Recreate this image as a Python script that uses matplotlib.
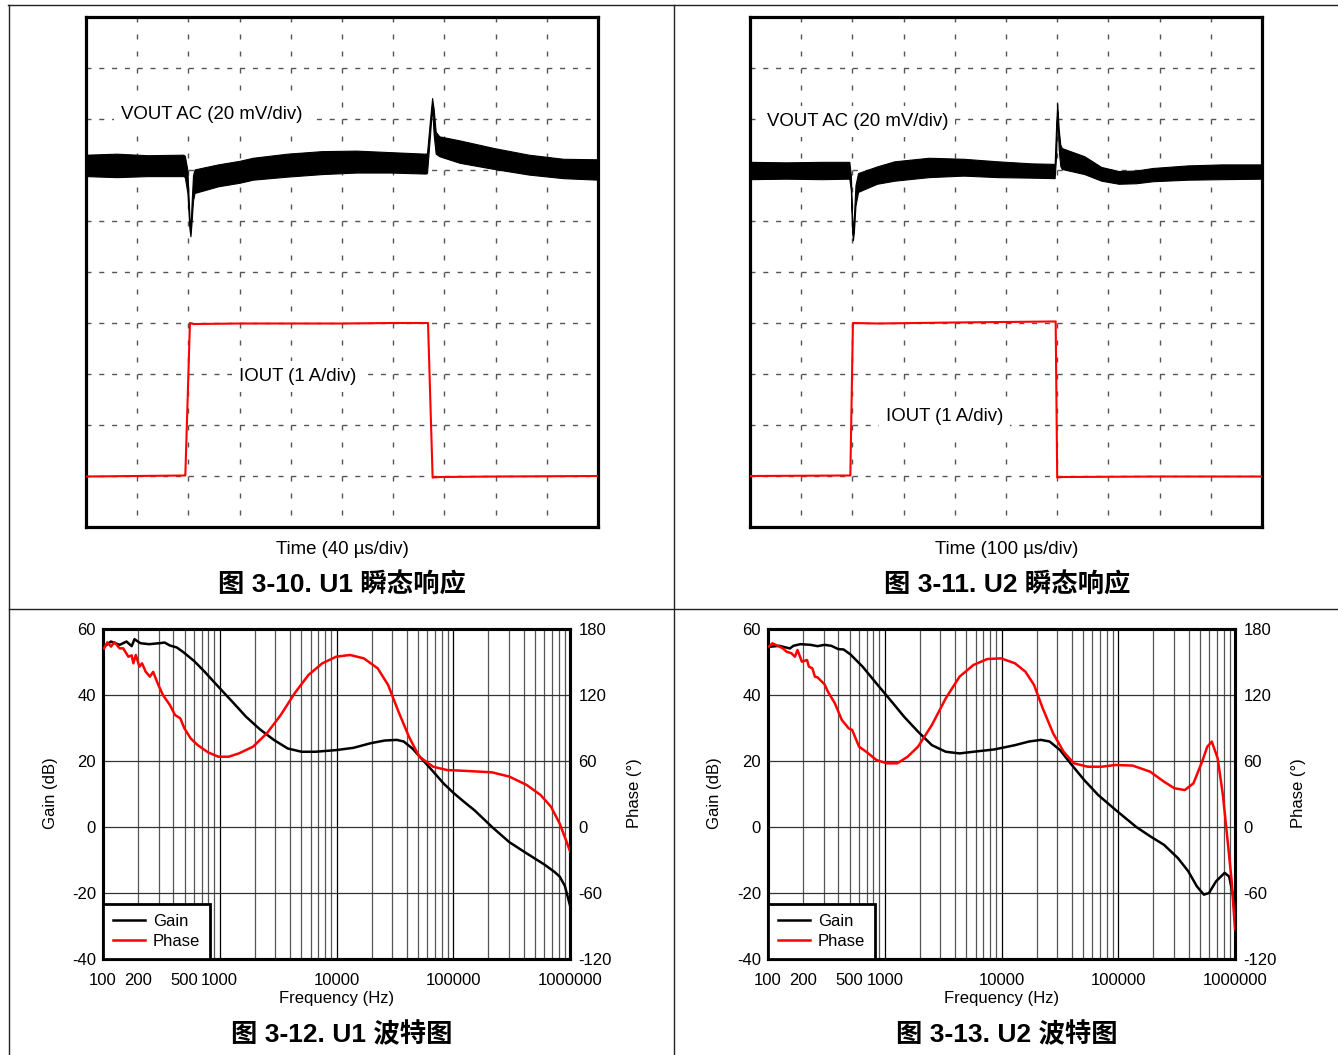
import matplotlib.pyplot as plt
from matplotlib.lines import Line2D
from matplotlib.ticker import NullLocator

plt.rcParams['font.family'] = ['Liberation Sans', 'Noto Sans CJK SC']
plt.rcParams['axes.unicode_minus'] = False

# ---- transient data (scope divisions, 10 x 10 grid) ----
u1_t = [0.00, 0.60, 1.20, 1.90, 1.93, 1.98, 2.02, 2.04, 2.06, 2.09, 2.12, 2.30, 2.58, 3.00, 3.26,
        3.93, 4.61, 5.28, 5.95, 6.63, 6.66, 6.72, 6.76, 6.79, 6.83, 6.90, 7.30, 7.97, 8.65, 9.32, 10.00]
u1_vout_hi = [7.30, 7.32, 7.29, 7.30, 7.28, 7.00, 6.10, 5.80, 6.30, 6.90, 7.01, 7.05, 7.11, 7.18, 7.24,
              7.32, 7.37, 7.38, 7.35, 7.32, 7.33, 8.00, 8.41, 8.20, 7.75, 7.66, 7.58, 7.43, 7.30, 7.22, 7.21]
u1_vout_lo = [6.88, 6.86, 6.88, 6.88, 6.86, 6.55, 5.85, 5.70, 5.95, 6.40, 6.55, 6.60, 6.68, 6.75, 6.81,
              6.87, 6.92, 6.95, 6.95, 6.93, 6.94, 7.70, 8.25, 7.70, 7.32, 7.27, 7.14, 7.02, 6.91, 6.84, 6.81]
u1_it = [0.00, 1.94, 2.03, 2.10, 3.00, 4.00, 5.00, 6.00, 6.68, 6.77, 6.90, 8.00, 10.00]
u1_iout = [0.99, 1.01, 4.00, 3.98, 3.99, 3.99, 3.99, 4.00, 4.00, 0.97, 0.98, 0.99, 1.00]

u2_t = [0.00, 0.70, 1.40, 1.94, 1.97, 1.99, 2.01, 2.03, 2.06, 2.11, 2.48, 2.82, 3.49, 4.17, 4.84,
        5.50, 5.95, 5.98, 6.00, 6.03, 6.06, 6.09, 6.53, 6.86, 7.20, 7.54, 7.87, 8.55, 9.22, 10.00]
u2_vout_hi = [7.16, 7.15, 7.16, 7.16, 6.90, 6.20, 5.72, 6.10, 6.70, 6.94, 7.07, 7.17, 7.24, 7.22, 7.17,
              7.13, 7.12, 7.90, 8.31, 7.80, 7.50, 7.43, 7.27, 7.06, 6.98, 6.99, 7.04, 7.09, 7.11, 7.11]
u2_vout_lo = [6.82, 6.83, 6.82, 6.83, 6.60, 5.90, 5.62, 5.80, 6.30, 6.57, 6.73, 6.79, 6.86, 6.89, 6.86,
              6.85, 6.84, 7.30, 8.15, 7.40, 7.08, 7.02, 6.92, 6.79, 6.73, 6.74, 6.78, 6.81, 6.82, 6.83]
u2_it = [0.00, 1.96, 2.01, 2.50, 4.00, 5.00, 5.97, 6.00, 6.10, 8.00, 10.00]
u2_iout = [1.00, 1.01, 4.00, 3.99, 4.01, 4.02, 4.03, 0.97, 0.98, 0.99, 0.99]

# ---- Bode data ----
u1_gain_f = [102, 117, 139, 159, 176, 186, 209, 248, 305, 337, 374, 429, 491, 603, 740, 973, 1279,
             1681, 2209, 2904, 3817, 5017, 6592, 9931, 14000, 19668, 25850, 32840, 37650, 44660,
             54830, 67300, 82600, 101400, 125000, 152800, 214900, 302500, 425700, 599000, 736000,
             814800, 902700, 1e6]
u1_gain = [54.6, 56.2, 55.2, 56.2, 54.8, 56.9, 55.7, 55.4, 55.7, 55.9, 55.0, 54.4, 52.9, 50.3, 47.1,
           42.5, 38.0, 33.4, 29.6, 26.4, 23.8, 22.8, 22.8, 23.3, 24.0, 25.4, 26.2, 26.4, 25.9, 23.8,
           20.3, 16.8, 13.2, 10.2, 7.5, 5.0, 0.0, -4.6, -8.0, -11.3, -13.6, -15.0, -17.8, -23.8]
u1_phase_f = [102, 109, 117, 125, 139, 149, 165, 176, 182, 191, 205, 216, 232, 252, 269, 294, 326,
              374, 414, 459, 498, 563, 646, 793, 973, 1195, 1466, 1927, 2533, 3330, 4375, 5750,
              7557, 9931, 13051, 17162, 22550, 27677, 33980, 41710, 51200, 67300, 88450, 133200,
              214900, 302500, 425700, 559600, 686800, 814800, 934000, 1e6]
u1_phase = [162.4, 167.9, 164.0, 168.0, 162.4, 162.4, 154.8, 156.0, 148.8, 156.4, 145.8, 148.8, 141.2,
            136.7, 141.0, 130.6, 120.0, 110.9, 101.8, 98.8, 89.7, 80.6, 74.5, 67.9, 63.9, 63.9, 67.0,
            73.0, 85.2, 101.8, 121.5, 138.2, 148.8, 154.8, 156.4, 153.3, 144.2, 129.1, 104.8, 82.1,
            63.9, 54.8, 51.8, 50.9, 49.7, 45.8, 38.2, 29.1, 18.5, 3.3, -13.3, -22.1]

u2_gain_f = [102, 125, 154, 165, 189, 232, 266, 305, 349, 400, 444, 508, 646, 849, 1115, 1466, 1927,
             2533, 3330, 4375, 5750, 8663, 13051, 17162, 21792, 25850, 31730, 38960, 51200, 67300,
             94700, 142700, 187500, 246500, 323900, 397600, 471700, 540800, 599000, 686800, 814800,
             890400, 966500, 1e6]
u2_gain = [54.6, 54.9, 54.1, 54.9, 55.4, 55.2, 54.8, 55.2, 54.9, 53.9, 53.8, 52.3, 48.6, 43.5, 38.5,
           33.4, 28.9, 24.8, 22.8, 22.3, 22.8, 23.5, 24.8, 25.9, 26.4, 25.9, 23.3, 19.3, 14.2, 9.7,
           5.2, 0.0, -2.8, -5.4, -9.4, -13.4, -18.0, -20.5, -20.0, -16.5, -13.9, -15.0, -21.0, -28.0]
u2_phase_f = [102, 109, 125, 134, 144, 159, 170, 179, 195, 216, 224, 240, 252, 266, 305, 326, 374,
              429, 491, 526, 603, 692, 849, 1042, 1279, 1570, 1927, 2533, 3330, 4375, 5750, 7557,
              9931, 13051, 16025, 19005, 22550, 27677, 33980, 41710, 54830, 72060, 94700, 133200,
              187500, 246500, 302500, 371300, 440500, 522600, 578900, 632800, 710600, 787400,
              854700, 934000, 1e6]
u2_phase = [164.0, 167.0, 164.0, 162.4, 159.4, 157.9, 154.8, 160.9, 150.3, 151.8, 145.8, 144.2, 136.7,
            136.0, 129.7, 123.0, 112.4, 97.3, 89.7, 88.2, 73.0, 68.5, 60.9, 57.9, 57.9, 63.9, 73.0,
            92.7, 117.0, 136.7, 147.3, 152.7, 153.3, 148.8, 141.2, 129.1, 107.9, 85.2, 68.5, 57.9,
            54.8, 54.8, 56.4, 55.8, 50.3, 41.2, 35.2, 33.6, 39.7, 59.4, 73.0, 77.6, 62.4, 29.1,
            -7.3, -47.9, -92.7]

freq_ticks = [100, 200, 500, 1000, 10000, 100000, 1000000]
freq_labels = ['100', '200', '500', '1000', '10000', '100000', '1000000']
gain_ticks = [-40, -20, 0, 20, 40, 60]
phase_ticks = [-120, -60, 0, 60, 120, 180]

W, H = 1338, 1055
fig = plt.figure(figsize=(W / 100, H / 100), dpi=100)
PT = 0.72  # points per pixel


def add_ax(l, t, r, b):
    return fig.add_axes([l / W, 1 - b / H, (r - l) / W, (b - t) / H])


def ftext(x, y, s, **kw):
    fig.text(x / W, 1 - y / H, s, ha='center', va='center', **kw)


# table lines
for xs, ys in [([8, W], [5, 5]), ([9, 9], [5, H]), ([674, 674], [5, H]), ([9, W], [609, 609])]:
    fig.add_artist(Line2D([x / W for x in xs], [1 - y / H for y in ys], color='#222', lw=1.0))


def scope(l, r, t, vhi, vlo, it, iout, vpos, ipos, time_label, caption, cx):
    ax = add_ax(l, 17, r, 527)
    ax.set_xlim(0, 10)
    ax.set_ylim(0, 10)
    ax.set_xticks([])
    ax.set_yticks([])
    for s in ax.spines.values():
        s.set_linewidth(2.3)
    dw, dh = 51.2 * PT, 51.0 * PT
    for k in range(1, 10):
        ax.plot([k, k], [10, 0], color='#555', lw=1.0, dashes=(5 * PT, dh / 3 - 5 * PT), zorder=1)
        ax.plot([0, 10], [k, k], color='#555', lw=1.0, dashes=(5 * PT, dw / 4 - 5 * PT), zorder=1)
    ax.fill_between(t, vlo, vhi, color='k', lw=0.8, zorder=3)
    ax.plot(it, iout, color='red', lw=1.5, zorder=3)
    box = dict(facecolor='white', edgecolor='none', pad=5)
    ax.text(vpos[0], vpos[1], 'VOUT AC (20 mV/div)', fontsize=13.4, va='center', bbox=box, zorder=4)
    ax.text(ipos[0], ipos[1], 'IOUT (1 A/div)', fontsize=13.4, va='center', bbox=box, zorder=4)
    ftext(cx, 549, time_label, fontsize=13.4)
    ftext(cx, 585, caption, fontsize=19, weight='bold')


scope(86, 598, u1_t, u1_vout_hi, u1_vout_lo, u1_it, u1_iout, (0.68, 8.08), (2.99, 2.95),
      'Time (40 µs/div)', '图 3-10. U1 瞬态响应', 342)
scope(750, 1262, u2_t, u2_vout_hi, u2_vout_lo, u2_it, u2_iout, (0.33, 7.95), (2.66, 2.17),
      'Time (100 µs/div)', '图 3-11. U2 瞬态响应', 1007)


def bode(l, r, gf, g, pf, p, caption):
    ax = add_ax(l, 629, r, 959)
    ax.set_xscale('log')
    ax.set_xlim(100, 1e6)
    ax.set_ylim(-40, 60)
    for dec in [100, 1000, 10000, 100000]:
        for m in range(1, 10):
            ax.axvline(dec * m, color='k' if m == 1 else '#555', lw=0.9, zorder=1)
    for yv in [-20, 0, 20, 40]:
        ax.axhline(yv, color='#333', lw=0.9, zorder=1)
    ax.set_xticks(freq_ticks)
    ax.set_xticklabels(freq_labels)
    ax.xaxis.set_minor_locator(NullLocator())
    ax.set_yticks(gain_ticks)
    ax.tick_params(length=0, labelsize=12)
    ax.tick_params(axis='x', pad=10)
    ax.tick_params(axis='y', pad=5)
    lg, = ax.plot(gf, g, color='k', lw=1.8, zorder=3)
    ax2 = ax.twinx()
    ax2.set_ylim(-120, 180)
    ax2.set_yticks(phase_ticks)
    ax2.tick_params(length=0, labelsize=12, pad=6)
    lp, = ax2.plot(pf, p, color='red', lw=1.8, zorder=3)
    for a in (ax, ax2):
        for s in a.spines.values():
            s.set_linewidth(2.2)
    leg = ax2.legend([lg, lp], ['Gain', 'Phase'], loc='lower left', fontsize=12, fancybox=False,
                     framealpha=1, edgecolor='k', borderaxespad=0, handlelength=1.9,
                     handletextpad=0.5, labelspacing=0.28, borderpad=0.6)
    leg.get_frame().set_linewidth(2.0)
    cx = (l + r) / 2
    ftext(l - 53, 793, 'Gain (dB)', fontsize=12, rotation=90)
    ftext(r + 64, 793, 'Phase (°)', fontsize=12, rotation=90)
    ftext(cx, 998, 'Frequency (Hz)', fontsize=12)
    ftext(cx + 5, 1034, caption, fontsize=19, weight='bold')


bode(103, 570, u1_gain_f, u1_gain, u1_phase_f, u1_phase, '图 3-12. U1 波特图')
bode(768, 1235, u2_gain_f, u2_gain, u2_phase_f, u2_phase, '图 3-13. U2 波特图')

fig.savefig('out.png', dpi=100)
